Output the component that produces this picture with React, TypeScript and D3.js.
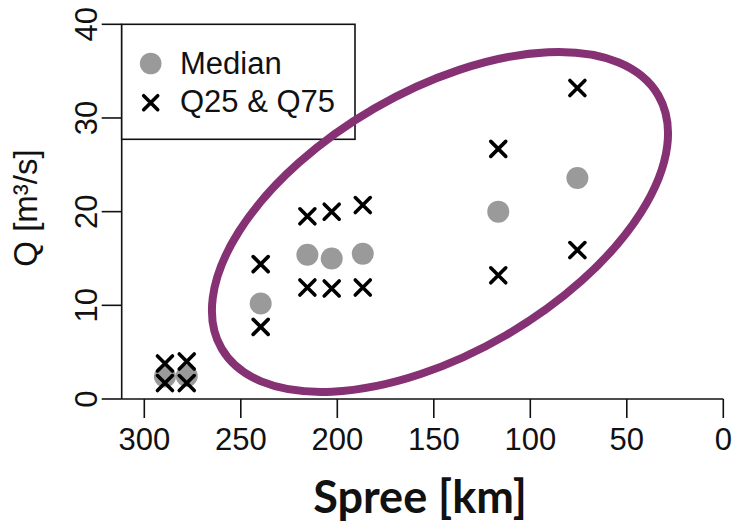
import React from "react";
import * as d3 from "d3";

// River kilometre along the Spree (distance to the mouth)
const distanceKm = [289.3, 278.0, 239.7, 215.5, 202.9, 186.8, 116.6, 75.6];
// Discharge statistics in m³/s at each gauge
const medianQ = [2.4, 2.45, 10.2, 15.4, 15.0, 15.5, 20.0, 23.6];
const q25 = [1.7, 1.7, 7.7, 11.9, 11.8, 11.9, 13.2, 15.9];
const q75 = [3.8, 4.0, 14.4, 19.5, 20.0, 20.7, 26.7, 33.2];

const xTicks = [300, 250, 200, 150, 100, 50, 0];
const yTicks = [0, 10, 20, 30, 40];

const W = 732;
const H = 522;
const AXIS_X = 121.7;

const x = d3.scaleLinear().domain([300, 0]).range([144.3, 723.3]);
const y = d3.scaleLinear().domain([0, 40]).range([399, 24.3]);

const FONT = "'Liberation Sans', Arial, sans-serif";
const GREY = "#9a9a9a";
const PURPLE = "#853173";

function Cross({ cx, cy, s = 7.5 }: { cx: number; cy: number; s?: number }) {
  return (
    <path
      d={`M${cx - s},${cy - s}L${cx + s},${cy + s}M${cx - s},${cy + s}L${cx + s},${cy - s}`}
      stroke="#000"
      strokeWidth={3.6}
      strokeLinecap="round"
      fill="none"
    />
  );
}

export default function App() {
  const base = y(0);
  // highlight ellipse around the lower-course gauges
  const ecx = x(146.8);
  const ecy = y(18.9);

  return (
    <svg
      width={W}
      height={H}
      style={{ position: "absolute", left: 0, top: 0, background: "#fff" }}
      fontFamily={FONT}
    >
      {/* axes */}
      <line x1={AXIS_X} x2={AXIS_X} y1={y(40)} y2={base} stroke="#111" strokeWidth={1.6} />
      <line x1={AXIS_X} x2={x(0)} y1={base} y2={base} stroke="#111" strokeWidth={1.6} />
      {yTicks.map((t) => (
        <g key={`y${t}`}>
          <line x1={AXIS_X - 20} x2={AXIS_X} y1={y(t)} y2={y(t)} stroke="#111" strokeWidth={1.6} />
          <text
            transform={`translate(97,${y(t)}) rotate(-90)`}
            textAnchor="middle"
            fontSize={31}
            fill="#111"
          >
            {t}
          </text>
        </g>
      ))}
      {xTicks.map((t) => (
        <g key={`x${t}`}>
          <line x1={x(t)} x2={x(t)} y1={base} y2={base + 19} stroke="#111" strokeWidth={1.6} />
          <text x={x(t)} y={450} textAnchor="middle" fontSize={31} fill="#111">
            {t}
          </text>
        </g>
      ))}

      {/* axis titles */}
      <text
        transform="translate(37,208) rotate(-90)"
        textAnchor="middle"
        fontSize={33}
        fill="#111"
      >
        Q [m³/s]
      </text>
      <text
        x={420}
        y={513}
        textAnchor="middle"
        fontSize={45}
        fontWeight="bold"
        fontFamily="Lato, 'Open Sans', sans-serif"
        fill="#111"
      >
        Spree [km]
      </text>

      {/* medians */}
      {distanceKm.map((d, i) => (
        <circle key={`m${i}`} cx={x(d)} cy={y(medianQ[i])} r={11} fill={GREY} />
      ))}
      {/* quartiles */}
      {distanceKm.map((d, i) => (
        <g key={`q${i}`}>
          <Cross cx={x(d)} cy={y(q25[i])} />
          <Cross cx={x(d)} cy={y(q75[i])} />
        </g>
      ))}

      {/* legend */}
      <rect x={AXIS_X} y={y(40)} width={233.3} height={115} fill="#fff" stroke="#111" strokeWidth={1.6} />
      <circle cx={150.7} cy={63.5} r={10.8} fill={GREY} />
      <text x={180} y={74} fontSize={31} fill="#111">
        Median
      </text>
      <Cross cx={150.7} cy={102.7} s={7} />
      <text x={180} y={112} fontSize={31} fill="#111">
        Q25 &amp; Q75
      </text>

      {/* highlight */}
      <ellipse
        cx={ecx}
        cy={ecy}
        rx={252.4}
        ry={131.1}
        transform={`rotate(-30.1,${ecx},${ecy})`}
        fill="none"
        stroke={PURPLE}
        strokeWidth={8}
      />
    </svg>
  );
}
